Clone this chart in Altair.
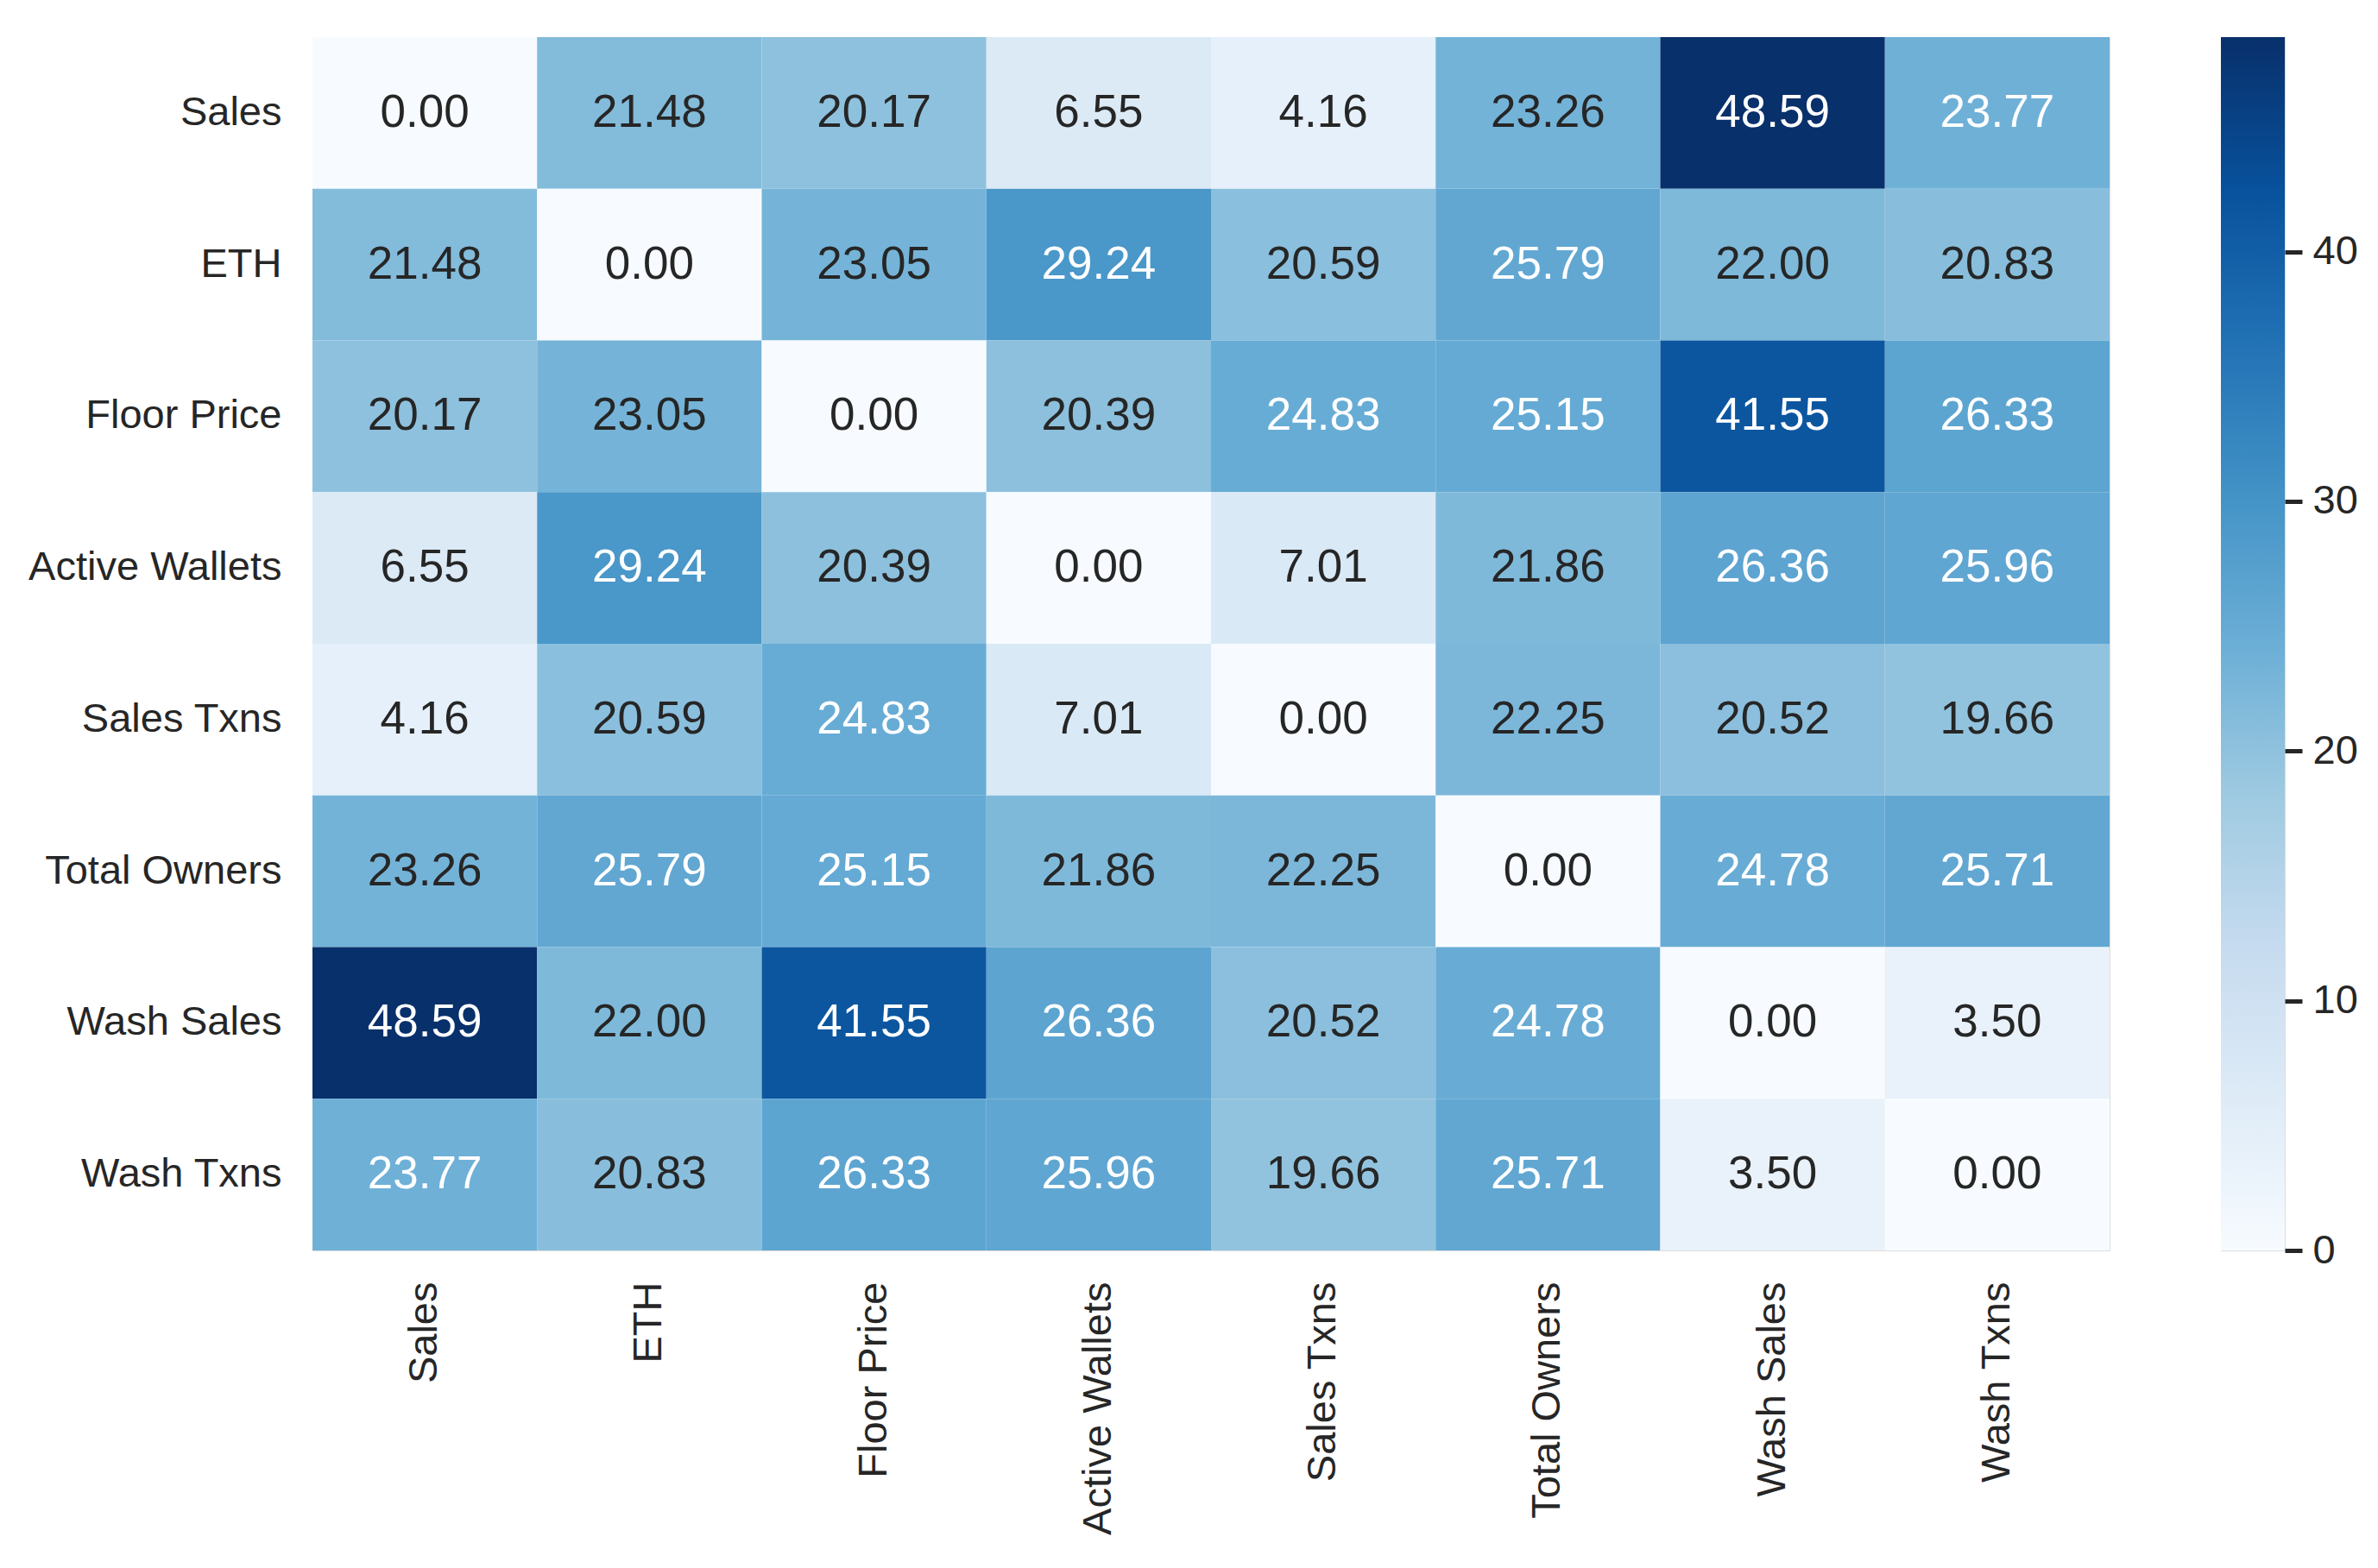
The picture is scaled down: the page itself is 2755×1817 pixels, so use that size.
import altair as alt
import pandas as pd

labels = ["Sales", "ETH", "Floor Price", "Active Wallets", "Sales Txns",
          "Total Owners", "Wash Sales", "Wash Txns"]

row_sales = [0.00, 21.48, 20.17, 6.55, 4.16, 23.26, 48.59, 23.77]
row_eth = [21.48, 0.00, 23.05, 29.24, 20.59, 25.79, 22.00, 20.83]
row_floor = [20.17, 23.05, 0.00, 20.39, 24.83, 25.15, 41.55, 26.33]
row_active = [6.55, 29.24, 20.39, 0.00, 7.01, 21.86, 26.36, 25.96]
row_stx = [4.16, 20.59, 24.83, 7.01, 0.00, 22.25, 20.52, 19.66]
row_owners = [23.26, 25.79, 25.15, 21.86, 22.25, 0.00, 24.78, 25.71]
row_wsales = [48.59, 22.00, 41.55, 26.36, 20.52, 24.78, 0.00, 3.50]
row_wtx = [23.77, 20.83, 26.33, 25.96, 19.66, 25.71, 3.50, 0.00]

cbar_ticks = [0, 10, 20, 30, 40]

BLUES = ["#f7fbff", "#deebf7", "#c6dbef", "#9ecae1", "#6baed6",
         "#4292c6", "#2171b5", "#08519c", "#08306b"]

rows = [row_sales, row_eth, row_floor, row_active, row_stx, row_owners, row_wsales, row_wtx]
recs = []
for rl, vals in zip(labels, rows):
    for cl, v in zip(labels, vals):
        recs.append({"row": rl, "col": cl, "value": v})
df = pd.DataFrame(recs)

vmax = max(max(r) for r in rows)
vmin = 0.0
dom = [vmin + (vmax - vmin) * i / (len(BLUES) - 1) for i in range(len(BLUES))]

FONT = "Liberation Sans"
TXT = "#262626"
W, H = 2082, 1406
LFS = 47   # tick label font size
AFS = 53   # annotation font size

base = alt.Chart(df).encode(
    x=alt.X("col:N", sort=labels, title=None,
            scale=alt.Scale(paddingInner=0, paddingOuter=0),
            axis=alt.Axis(labelAngle=-90, ticks=False, domain=False, labelPadding=36,
                          labelLimit=1000,
                          labelFontSize=LFS, labelFont=FONT, labelColor=TXT)),
    y=alt.Y("row:N", sort=labels, title=None,
            scale=alt.Scale(paddingInner=0, paddingOuter=0),
            axis=alt.Axis(ticks=False, domain=False, labelPadding=36, labelLimit=1000,
                          labelFontSize=LFS, labelFont=FONT, labelColor=TXT)),
)

rects = base.mark_rect().encode(
    color=alt.Color("value:Q", scale=alt.Scale(domain=dom, range=BLUES, interpolate="rgb"),
                    legend=None)
)

texts = base.mark_text(fontSize=AFS, font=FONT, baseline="middle", align="center").encode(
    text=alt.Text("value:Q", format=".2f"),
    color=alt.condition(alt.datum.value > 23.5, alt.value("white"), alt.value(TXT)),
)

heat = alt.layer(rects, texts).properties(width=W, height=H)

grad = alt.Gradient(
    gradient="linear",
    stops=[alt.GradientStop(color=c, offset=i / (len(BLUES) - 1)) for i, c in enumerate(BLUES)],
    x1=0, x2=0, y1=1, y2=0,
)

CBW = 74
cbar_df = pd.DataFrame({"lo": [vmin], "hi": [vmax]})
cbar = alt.Chart(cbar_df).mark_rect(fill=grad).encode(
    y=alt.Y("lo:Q", scale=alt.Scale(domain=[vmin, vmax], nice=False, zero=False), title=None,
            axis=alt.Axis(orient="right", values=cbar_ticks, grid=False, domain=False,
                          tickSize=20, tickWidth=5, tickColor=TXT, labelPadding=12,
                          labelFontSize=LFS, labelFont=FONT, labelColor=TXT)),
    y2="hi:Q",
    x=alt.value(0),
    x2=alt.value(CBW),
).properties(width=CBW, height=H)

chart = alt.hconcat(heat, cbar, spacing=127).properties(
    padding={"left": 24, "top": 34, "right": 5, "bottom": 5}
).configure_view(stroke=None).configure(background="white")

chart.save("out.html", embed_options={"renderer": "svg", "actions": False})
